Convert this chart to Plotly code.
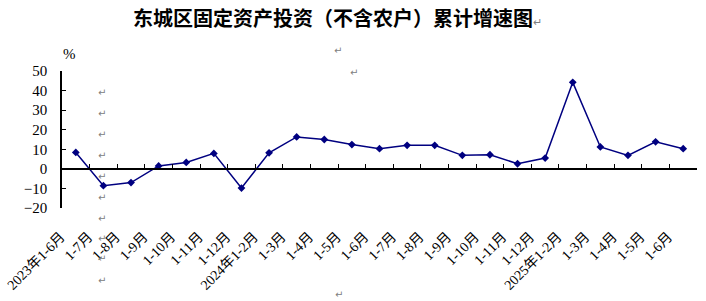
import plotly.graph_objects as go

# ---------------- data ----------------
categories = [
    "2023年1-6月", "1-7月", "1-8月", "1-9月", "1-10月", "1-11月", "1-12月",
    "2024年1-2月", "1-3月", "1-4月", "1-5月", "1-6月", "1-7月", "1-8月", "1-9月",
    "1-10月", "1-11月", "1-12月",
    "2025年1-2月", "1-3月", "1-4月", "1-5月", "1-6月",
]
growth = [8.4, -8.6, -7.0, 1.5, 3.3, 7.9, -9.8,
          8.2, 16.3, 15.0, 12.4, 10.3, 12.0, 12.0, 6.9,
          7.2, 2.6, 5.5,
          44.2, 11.2, 6.9, 13.8, 10.3]
y_ticks = [-20, -10, 0, 10, 20, 30, 40, 50]
title_text = "东城区固定资产投资（不含农户）累计增速图"
unit_text = "%"

# unique x keys (labels repeat), shown text via ticktext
x_keys = list(range(len(categories)))

# ---------------- layout geometry ----------------
W, H = 706, 301
L, R, T, B = 62, 9, 71, 93
plot_w = W - L - R
plot_h = H - T - B


def px(x):
    return (x - L) / plot_w


def py(y):
    return 1 - (y - T) / plot_h


NAVY = "#000080"
SERIF = "'Liberation Serif', 'Times New Roman', 'Noto Sans CJK SC', serif"
CJK_B = "'Noto Sans CJK SC', 'Noto Sans', sans-serif"

fig = go.Figure()

fig.add_trace(go.Scatter(
    x=x_keys, y=growth, xaxis="x2", yaxis="y",
    mode="lines+markers",
    line=dict(color=NAVY, width=1.5),
    marker=dict(symbol="diamond", size=6, color=NAVY),
    hoverinfo="skip", showlegend=False,
))
fig.add_trace(go.Scatter(
    x=x_keys, y=growth, xaxis="x", yaxis="y",
    mode="markers", marker=dict(opacity=0),
    hoverinfo="skip", showlegend=False,
))

xr = [-0.5, len(categories) - 0.5]
ymin, ymax = min(y_ticks), max(y_ticks)

fig.update_layout(
    width=W, height=H,
    margin=dict(l=L, r=R, t=T, b=B, pad=0, autoexpand=False),
    paper_bgcolor="white", plot_bgcolor="white",
    showlegend=False,
    xaxis=dict(
        range=xr, tickmode="array", tickvals=x_keys, ticktext=categories,
        tickangle=-45, showline=False, ticks="", showgrid=False, zeroline=False,
        tickfont=dict(family=SERIF, size=14, color="black"),
        ticklabelstandoff=17, ticklabelshift=-15, automargin=False,
        fixedrange=True,
    ),
    xaxis2=dict(
        range=xr, overlaying="x", anchor="free",
        position=(0 - ymin) / (ymax - ymin),
        tickmode="linear", tick0=-0.5, dtick=1,
        showline=True, linecolor="black", linewidth=1.5,
        ticks="inside", ticklen=4, tickwidth=1, tickcolor="black",
        showticklabels=False, showgrid=False, zeroline=False, automargin=False,
        fixedrange=True,
    ),
    yaxis=dict(
        range=[ymin, ymax], tickmode="array", tickvals=y_ticks,
        ticktext=[str(v).replace("-", "\u2212") for v in y_ticks],
        showline=True, linecolor="black", linewidth=1.5,
        ticks="inside", ticklen=4, tickwidth=1, tickcolor="black",
        showgrid=False, zeroline=False, automargin=False,
        tickfont=dict(family=SERIF, size=15, color="black"),
        ticklabelstandoff=10,
        fixedrange=True,
    ),
)

annotations = [
    dict(x=px(337), y=py(17), text=f"<b>{title_text}</b><span style='color:#808080;font-size:11px'>↵</span>",
         font=dict(family=CJK_B, size=20, color="black")),
    dict(x=px(69), y=py(54), text=unit_text,
         font=dict(family=SERIF, size=15, color="black")),
]
# Word paragraph marks visible in the source picture
marks = [(338, 51), (354, 72), (339, 294)] + [(102, yy) for yy in (92, 113, 134, 155, 176, 197, 218, 238, 258, 280)]
for mx, my in marks:
    annotations.append(dict(x=px(mx), y=py(my), text="↵",
                            font=dict(family="DejaVu Sans", size=10, color="#808080")))
for a in annotations:
    a.update(xref="paper", yref="paper", showarrow=False, xanchor="center", yanchor="middle")
fig.update_layout(annotations=annotations)

fig.write_html("out.html")
